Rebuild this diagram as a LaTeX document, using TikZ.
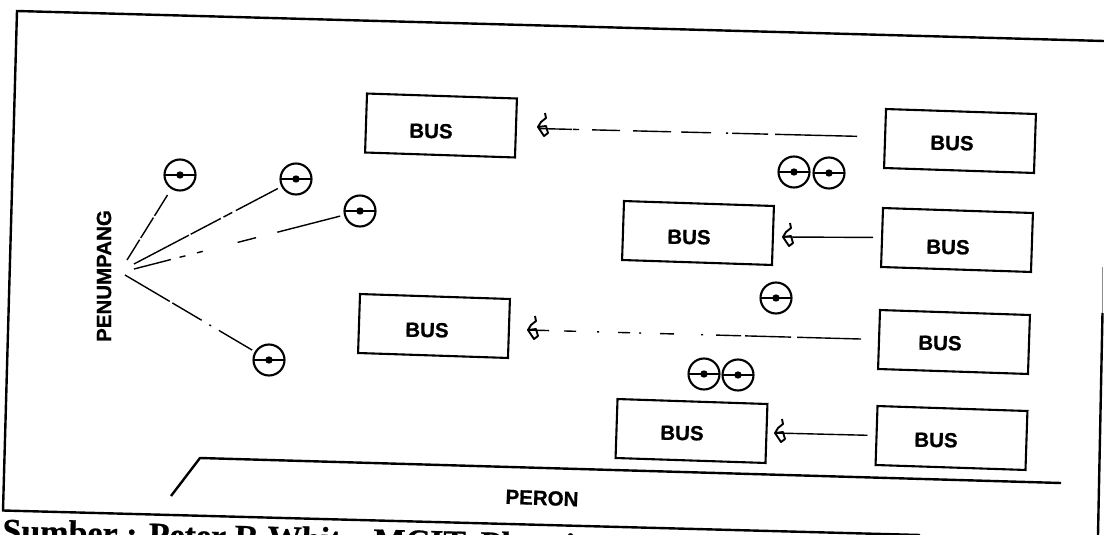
\documentclass[tikz,border=0pt]{standalone}
\usepackage{fontspec}
\setmainfont[BoldFeatures={FakeBold=0.8}]{Liberation Sans}
\newfontfamily\capfont[BoldFeatures={FakeBold=0.6}]{Liberation Serif}
\tikzset{
  x=1pt,y=-1pt,
  ink/.style={draw=black,line width=2.4pt},
  busbox/.style={draw=black,line width=2.1pt,rotate=-1.9,minimum width=150pt,minimum height=59pt,inner sep=0pt},
  bustext/.style={font=\fontsize{20.5}{20.5}\selectfont\bfseries,text=black,rotate=-1,inner sep=0pt},
  person/.style={circle,draw=black,line width=2.1pt,minimum size=31pt,inner sep=0pt,
    path picture={\draw[line width=1.4pt] (path picture bounding box.west) -- (path picture bounding box.east);
      \fill (path picture bounding box.center) circle (3.7pt);}},
  walk/.style={line width=1.4pt,draw=black},
  lane/.style={line width=1.4pt,draw=black},
  lbl/.style={font=\fontsize{20.5}{20.5}\selectfont\bfseries,text=black,inner sep=0pt},
  pics/wiggle/.style={code={
    \draw[line width=1.9pt,line join=round] (7,-14) -- (8,-9) -- (3,-5) -- (0,0);
    \draw[line width=1.9pt,line join=round] (0,0) -- (8,-1) -- (10,6) -- (6,9) -- cycle;
  }},
}
\begin{document}
\begin{tikzpicture}
\useasboundingbox (0,0) rectangle (1104,535);
\clip (0,0) rectangle (1104,535);
% frame
\coordinate (ftl) at (17,11);
\coordinate (ftr) at (1104,41);
\coordinate (fbl) at (3,510.5);
\coordinate (fbr) at (920,535);
\coordinate (rs) at (1102.5,267);
\coordinate (rt) at (1102.5,313);
\coordinate (rb) at (1098,535);
\draw[ink] (ftr) -- (ftl) -- (fbl) -- (fbr);
\draw[line width=.8pt,draw=black!45] (rs) -- (rt);
\draw[ink] (rt) -- (rb);
% buses
\node[busbox] (b1) at (441,125.5) {};
\node[busbox] (b2) at (960,141) {};
\node[busbox] (b3) at (698,233) {};
\node[busbox] (b4) at (957,240) {};
\node[busbox] (b5) at (434,326) {};
\node[busbox] (b6) at (954,342) {};
\node[busbox] (b7) at (691.5,431) {};
\node[busbox] (b8) at (951.5,438) {};
\node[bustext] (l1) at (431,131) {BUS};
\node[bustext] (l2) at (952,143) {BUS};
\node[bustext] (l3) at (689,237) {BUS};
\node[bustext] (l4) at (948,247) {BUS};
\node[bustext] (l5) at (427,330) {BUS};
\node[bustext] (l6) at (940,343) {BUS};
\node[bustext] (l7) at (682,433) {BUS};
\node[bustext] (l8) at (936,440) {BUS};
% passengers
\node[person] (p1) at (180,175) {};
\node[person] (p2) at (296,179) {};
\node[person] (p3) at (360,211) {};
\node[person] (p4) at (269,360) {};
\node[person] (p5) at (794,172) {};
\node[person] (p6) at (829,173) {};
\node[person] (p7) at (776,298) {};
\node[person] (p8) at (704,374) {};
\node[person] (p9) at (738,375) {};
% label and fan
\node[lbl,rotate=90] (pen) at (104,276) {PENUMPANG};
\coordinate (h1) at (127,260);
\coordinate (h2) at (134,264);
\coordinate (h3) at (134,269);
\coordinate (h4) at (125,275);
\draw[walk,shorten >=7pt,dash pattern=on 24pt off 2pt on 24pt off 2pt on 60pt] (h1) -- (p1);
\draw[walk,shorten >=4pt,dash pattern=on 62pt off 2pt on 34pt off 3pt on 10pt off 4pt on 80pt] (h2) -- (p2);
\draw[walk,shorten >=4pt,dash pattern=on 38pt off 9pt on 6pt off 12pt on 6pt off 36pt on 19pt off 22pt on 100pt] (h3) -- (p3);
\draw[walk,shorten >=3pt,dash pattern=on 52pt off 3pt on 34pt off 9pt on 2pt off 9pt on 80pt] (h4) -- (p4);
% arrows
\coordinate (t1) at (538,127);
\coordinate (t3) at (783,237);
\coordinate (t5) at (528,330);
\coordinate (t7) at (775,433);
\draw[lane,shorten >=22pt,shorten <=27pt,dash pattern=on 82pt off 7pt on 36pt off 4pt on 2pt off 15pt on 30pt off 10pt on 38pt off 13pt on 28pt off 13pt on 6pt off 1pt on 100pt] ([yshift=1.5pt]b2.west) -- (b1.east);
\draw[lane,shorten <=8pt] (b4.west) -- (t3);
\draw[lane,shorten <=17pt,dash pattern=on 64pt off 6pt on 46pt off 4pt on 25pt off 13pt on 2pt off 27pt on 14pt off 19pt on 2pt off 9pt on 12pt off 19pt on 2pt off 21pt on 12pt off 15pt on 100pt] (b6.west) -- (t5);
\draw[lane,shorten <=8pt] (b8.west) -- (t7);
\pic at (t1) {wiggle};
\pic at (t3) {wiggle};
\pic at (t5) {wiggle};
\pic at (t7) {wiggle};
% platform
\coordinate (pa) at (171,496);
\coordinate (pb) at (200,458);
\coordinate (pc) at (1061,483);
\draw[ink,line join=round] (pa) -- (pb) -- (pc);
\node[lbl,rotate=-2] (per) at (542,498) {PERON};
% caption
\node[anchor=base west,inner sep=0pt,rotate=-1.5,text=black] (cap) at (2,542) {\capfont\bfseries\fontsize{34}{34}\selectfont Sumber : Peter R White, MCIT, Planning};
\end{tikzpicture}
\end{document}
